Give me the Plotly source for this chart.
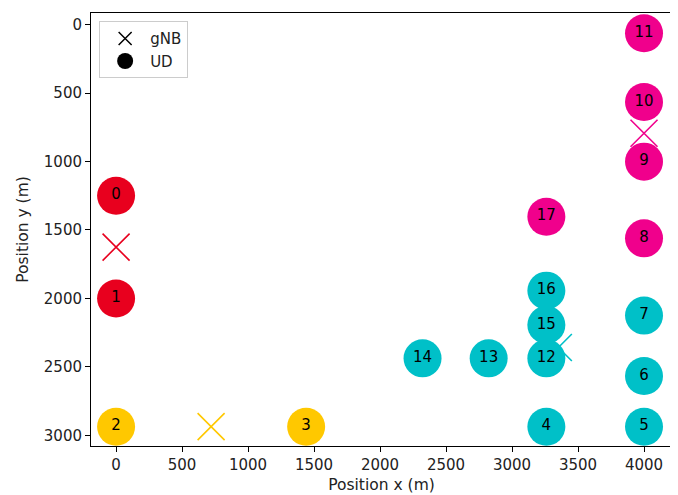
import plotly.graph_objects as go

# UD positions (m)
ud_ids = list(range(18))
ud_x = [0, 0, 0, 1440, 3260, 4000, 4000, 4000, 4000, 4000, 4000, 4000, 3260, 2823, 2322, 3260, 3260, 3260]
ud_y = [1250, 2000, 2936, 2936, 2936, 2936, 2566, 2125, 1561, 1001, 566, 64, 2437, 2437, 2437, 2193, 1943, 1403]
ud_cluster = [0, 0, 1, 1, 2, 2, 2, 2, 3, 3, 3, 3, 2, 2, 2, 2, 2, 3]

# gNB positions (m), one per cluster
gnb_x = [0, 720, 3351, 4000]
gnb_y = [1625, 2936, 2358, 794]

cluster_colors = ["#E8001E", "#FFC800", "#00C0C8", "#F0008C"]

FONT = "DejaVu Sans"

fig = go.Figure()

# gNB markers
fig.add_trace(go.Scatter(
    x=gnb_x, y=gnb_y, mode="markers", showlegend=False, hoverinfo="skip",
    marker=dict(symbol="x-thin-open", size=27, color=cluster_colors,
                line=dict(width=1.6, color=cluster_colors)),
))

# UD markers
fig.add_trace(go.Scatter(
    x=ud_x, y=ud_y, mode="markers+text", showlegend=False,
    text=[str(i) for i in ud_ids], textposition="middle center",
    textfont=dict(family=FONT, size=15, color="black"),
    marker=dict(symbol="circle", size=38, color=[cluster_colors[c] for c in ud_cluster]),
))

# Legend entries
fig.add_trace(go.Scatter(
    x=[None], y=[None], mode="markers", name="gNB",
    marker=dict(symbol="x-thin-open", size=13, color="black", line=dict(width=1.5, color="black")),
))
fig.add_trace(go.Scatter(
    x=[None], y=[None], mode="markers", name="UD",
    marker=dict(symbol="circle", size=16, color="black"),
))

axis_common = dict(
    showgrid=False, zeroline=False, showline=True, linecolor="black", linewidth=1,
    mirror=True, ticks="outside", ticklen=5, tickcolor="black", automargin=False,
    tickfont=dict(family=FONT, size=15, color="#222222"),
)

fig.update_layout(
    width=670, height=487,
    margin=dict(l=83, r=6, t=5, b=49),
    plot_bgcolor="white", paper_bgcolor="white",
    font=dict(family=FONT, size=15, color="#222222"),
    xaxis=dict(range=[-190, 4212], tickvals=[0, 500, 1000, 1500, 2000, 2500, 3000, 3500, 4000],
               title=dict(text="Position x (m)", font=dict(family=FONT, size=15.5), standoff=6),
               **axis_common),
    yaxis=dict(range=[3077, -84], tickvals=[0, 500, 1000, 1500, 2000, 2500, 3000],
               title=dict(text="Position y (m)", font=dict(family=FONT, size=15.5), standoff=11),
               **axis_common),
    legend=dict(x=0.014, y=0.981, xanchor="left", yanchor="top",
                bgcolor="rgba(255,255,255,0.8)", bordercolor="#cccccc", borderwidth=1,
                font=dict(family=FONT, size=15, color="#222222"),
                itemwidth=40, tracegroupgap=0),
)

fig.write_html("out.html")
